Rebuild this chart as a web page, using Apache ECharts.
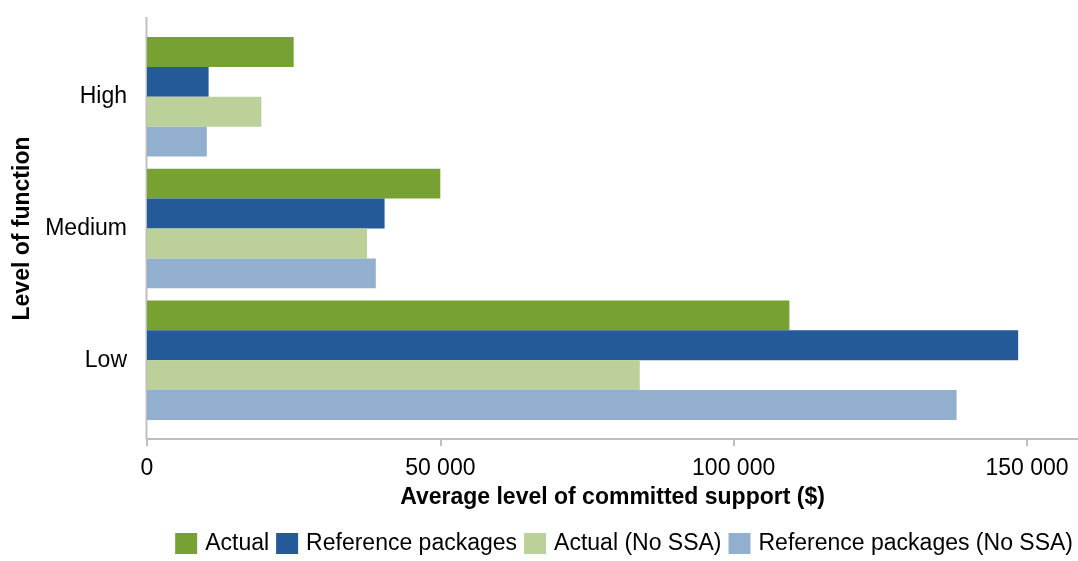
<!DOCTYPE html>
<html>
<head>
<meta charset="utf-8">
<script src="https://cdn.jsdelivr.net/npm/echarts@6/dist/echarts.min.js"></script>
<style>html,body{margin:0;padding:0;background:#fff}#c{width:1078px;height:561px}</style>
</head>
<body>
<div id="c"></div>
<script>
var categories = ['High', 'Medium', 'Low'];
var seriesNames = ['Actual', 'Reference packages', 'Actual (No SSA)', 'Reference packages (No SSA)'];
var actual = [25000, 50000, 109500];
var reference = [10500, 40500, 148500];
var actualNoSSA = [19500, 37500, 84000];
var referenceNoSSA = [10200, 39000, 138000];
var xTicks = [0, 50000, 100000, 150000];
var colors = ['#77A132', '#255A99', '#BCD199', '#93AFCE'];

var dataSets = [actual, reference, actualNoSSA, referenceNoSSA];
var font = 'Liberation Sans, Arial, sans-serif';
var chart = echarts.init(document.getElementById('c'), null, {renderer: 'canvas'});
chart.setOption({
  animation: false,
  color: colors,
  textStyle: {fontFamily: font, color: '#000'},
  grid: {left: 147, right: 0, top: 31, bottom: 135, containLabel: false},
  graphic: [{
    type: 'line',
    z: 0,
    shape: {x1: 146.5, y1: 17, x2: 146.5, y2: 439},
    style: {stroke: '#BFBFBF', lineWidth: 2}
  }],
  xAxis: {
    type: 'value',
    min: 0,
    max: 158700,
    offset: 13,
    name: 'Average level of committed support ($)',
    nameLocation: 'middle',
    nameGap: 47,
    nameTextStyle: {fontFamily: font, fontSize: 23, fontWeight: 'bold', color: '#000'},
    axisLine: {show: true, lineStyle: {color: '#BFBFBF', width: 2}},
    axisTick: {show: true, length: 7, lineStyle: {color: '#BFBFBF', width: 2}, customValues: xTicks},
    axisLabel: {fontFamily: font, fontSize: 23, color: '#000', margin: 18, customValues: xTicks,
      formatter: function (v) { return String(v).replace(/\B(?=(\d{3})+(?!\d))/g, ' '); }},
    splitLine: {show: false}
  },
  yAxis: {
    type: 'category',
    inverse: true,
    data: categories,
    name: 'Level of function',
    nameLocation: 'middle',
    nameGap: 113,
    nameTextStyle: {fontFamily: font, fontSize: 23, fontWeight: 'bold', color: '#000'},
    axisLine: {show: false},
    axisTick: {show: false},
    axisLabel: {fontFamily: font, fontSize: 23, color: '#000', margin: 20}
  },
  legend: {
    bottom: 1,
    right: 0,
    itemWidth: 22,
    itemHeight: 21,
    itemGap: 7,
    icon: 'rect',
    textStyle: {fontFamily: font, fontSize: 23, color: '#000', padding: [0, 0, 0, 3]},
    data: seriesNames
  },
  series: seriesNames.map(function (n, i) {
    return {
      name: n,
      type: 'bar',
      data: dataSets[i],
      barGap: '0%',
      barCategoryGap: '9.2%',
      itemStyle: {color: colors[i]}
    };
  })
});
</script>
</body>
</html>
